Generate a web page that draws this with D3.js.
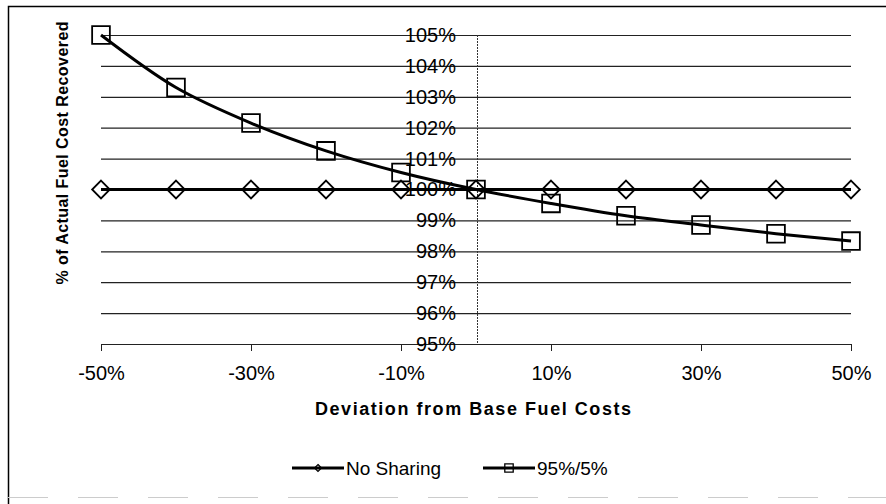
<!DOCTYPE html>
<html>
<head>
<meta charset="utf-8">
<script src="https://cdn.jsdelivr.net/npm/d3@7"></script>
<style>
  body { margin: 0; background: #fff; }
  svg { display: block; font-family: "Liberation Sans", Arial, sans-serif; }
</style>
</head>
<body>
<svg id="chart"></svg>
<script>
// deviation from base fuel cost (%)
const deviations = [-50, -40, -30, -20, -10, 0, 10, 20, 30, 40, 50];
const noSharing = [100, 100, 100, 100, 100, 100, 100, 100, 100, 100, 100];
const sharing95 = [105, 103.3, 102.15, 101.25, 100.55, 100, 99.55, 99.15, 98.85, 98.57, 98.33];
const xTicks = [-50, -30, -10, 10, 30, 50];
const yTicks = [95, 96, 97, 98, 99, 100, 101, 102, 103, 104, 105];

const width = 886, height = 504;
const svg = d3.select('#chart').attr('width', width).attr('height', height);

// outer frame
svg.append('path')
    .attr('d', 'M8.5,504 V6.5 H886')
    .attr('fill', 'none').attr('stroke', '#000').attr('stroke-width', 1.5);
svg.append('line')
    .attr('x1', 8).attr('x2', 886).attr('y1', 497.5).attr('y2', 497.5)
    .attr('stroke', '#ccc').attr('stroke-dasharray', '40,30');

const x = d3.scaleLinear().domain([-50, 50]).range([101, 851]);
const y = d3.scaleLinear().domain([95, 105]).range([344, 35]);

// gridlines
svg.append('g')
    .attr('transform', 'translate(' + x(-50) + ',0)')
    .call(d3.axisRight(y).tickValues(yTicks).tickSize(x(50) - x(-50)).tickFormat(''))
    .call(g => g.select('.domain').remove())
    .call(g => g.selectAll('line').attr('stroke', '#222').attr('stroke-width', 1.2));

// x axis (ticks only, 95% gridline acts as baseline)
svg.append('g')
    .attr('transform', 'translate(0,' + y(95) + ')')
    .call(d3.axisBottom(x).tickValues(xTicks).tickSize(7).tickPadding(15).tickFormat(d => d + '%'))
    .call(g => g.select('.domain').remove())
    .call(g => g.selectAll('line').attr('stroke', '#222'))
    .call(g => g.selectAll('text').attr('font-size', 20).attr('fill', '#000')
        .attr('font-family', '"Liberation Sans", Arial, sans-serif'));

// y axis at zero deviation
svg.append('line')
    .attr('x1', x(0) + 1.5).attr('x2', x(0) + 1.5)
    .attr('y1', y(105)).attr('y2', y(95))
    .attr('stroke', '#333').attr('stroke-dasharray', '2,1');
svg.append('g')
    .attr('transform', 'translate(' + x(0) + ',0)')
    .call(d3.axisLeft(y).tickValues(yTicks).tickSize(0).tickPadding(20).tickFormat(d => d + '%'))
    .call(g => g.select('.domain').remove())
    .call(g => g.selectAll('text').attr('font-size', 20).attr('fill', '#000')
        .attr('font-family', '"Liberation Sans", Arial, sans-serif'));

// series lines
const noLine = d3.line().x((d, i) => x(deviations[i])).y(d => y(d));
const shLine = d3.line().x((d, i) => x(deviations[i])).y(d => y(d)).curve(d3.curveCatmullRom);

svg.append('path').datum(noSharing).attr('d', noLine)
    .attr('fill', 'none').attr('stroke', '#000').attr('stroke-width', 3);
svg.append('path').datum(sharing95).attr('d', shLine)
    .attr('fill', 'none').attr('stroke', '#000').attr('stroke-width', 3);

const diamond = d3.symbol().type(d3.symbolDiamond2).size(200);
const square = d3.symbol().type(d3.symbolSquare2).size(400);

svg.append('g').selectAll('path')
    .data(noSharing).join('path')
    .attr('transform', (d, i) => 'translate(' + x(deviations[i]) + ',' + y(d) + ')')
    .attr('d', diamond)
    .attr('fill', 'none').attr('stroke', '#000').attr('stroke-width', 1.8);

svg.append('g').selectAll('path')
    .data(sharing95).join('path')
    .attr('transform', (d, i) => 'translate(' + x(deviations[i]) + ',' + y(d) + ')')
    .attr('d', square)
    .attr('fill', 'none').attr('stroke', '#000').attr('stroke-width', 1.8);

// axis titles
svg.append('text')
    .attr('x', 473).attr('y', 415)
    .attr('text-anchor', 'middle')
    .attr('font-size', 18).attr('font-weight', 'bold')
    .attr('textLength', 316).attr('lengthAdjust', 'spacing')
    .text('Deviation from Base Fuel Costs');

svg.append('text')
    .attr('transform', 'translate(68,153) rotate(-90)')
    .attr('text-anchor', 'middle')
    .attr('font-size', 16).attr('font-weight', 'bold')
    .attr('textLength', 263).attr('lengthAdjust', 'spacing')
    .text('% of Actual Fuel Cost Recovered');

// legend
const legend = [
  { name: 'No Sharing', x0: 292, symbol: d3.symbol().type(d3.symbolDiamond2).size(30) },
  { name: '95%/5%', x0: 483, symbol: d3.symbol().type(d3.symbolSquare2).size(90) }
];
const lg = svg.append('g').selectAll('g').data(legend).join('g')
    .attr('transform', d => 'translate(' + d.x0 + ',468)');
lg.append('line').attr('x1', 0).attr('x2', 52)
    .attr('stroke', '#000').attr('stroke-width', 3);
lg.append('path').attr('transform', 'translate(26,0)').attr('d', d => d.symbol())
    .attr('fill', 'none').attr('stroke', '#000').attr('stroke-width', 1.3);
lg.append('text').attr('x', 54).attr('y', 7)
    .attr('font-size', 19)
    .text(d => d.name);
</script>
</body>
</html>
